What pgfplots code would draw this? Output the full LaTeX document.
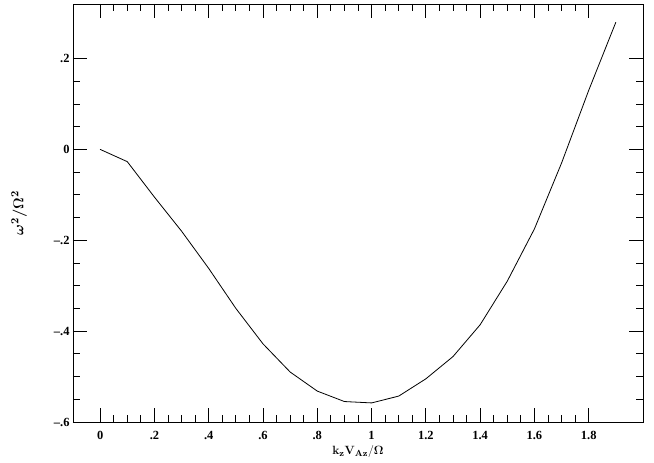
\documentclass[border=0pt]{standalone}
\usepackage{amsmath,amssymb,bm}
\usepackage[no-math]{fontspec}
\setmainfont{Liberation Serif}
\usepackage{pgfplots}
\pgfplotsset{compat=1.18}

\begin{document}
\begin{tikzpicture}
\begin{axis}[
    scale only axis,
    width=570bp, height=418bp,
    xmin=-0.1, xmax=2.0,
    ymin=-0.6, ymax=0.32,
    xtick={0,0.2,0.4,0.6,0.8,1,1.2,1.4,1.6,1.8},
    xticklabels={0,.2,.4,.6,.8,1,1.2,1.4,1.6,1.8},
    ytick={-0.6,-0.4,-0.2,0,0.2},
    yticklabels={--.6,--.4,--.2,0,.2},
    minor x tick num=3,
    minor y tick num=3,
    tick align=inside,
    major tick length=14bp,
    minor tick length=7bp,
    tick style={black, line width=0.8bp},
    axis line style={line width=0.8bp},
    ticklabel style={font=\fontsize{12.5}{15}\selectfont\bfseries},
    xticklabel style={yshift=-6bp},
    xlabel={$\mathbf{k_z V_{Az}/\Omega}$},
    ylabel={$\bm{\omega^2/\Omega^2}$},
    label style={font=\fontsize{13}{15}\selectfont},
    xlabel style={yshift=1bp},
    ylabel style={yshift=20bp, font=\fontsize{15}{17}\selectfont},
]
\addplot[black, line width=0.8bp] coordinates {
(0,0) (0.1,-0.027) (0.2,-0.105) (0.3,-0.18) (0.4,-0.262) (0.5,-0.35)
(0.6,-0.428) (0.7,-0.49) (0.8,-0.532) (0.9,-0.555) (1.0,-0.558)
(1.1,-0.543) (1.2,-0.505) (1.3,-0.456) (1.4,-0.386) (1.5,-0.29)
(1.6,-0.175) (1.7,-0.03) (1.8,0.13) (1.9,0.28)
};
\end{axis}
\pgfresetboundingbox
\path (current axis.south west) ++(-73bp,-41bp);
\path (current axis.north east) ++(11bp,4bp);
\end{tikzpicture}
\end{document}
